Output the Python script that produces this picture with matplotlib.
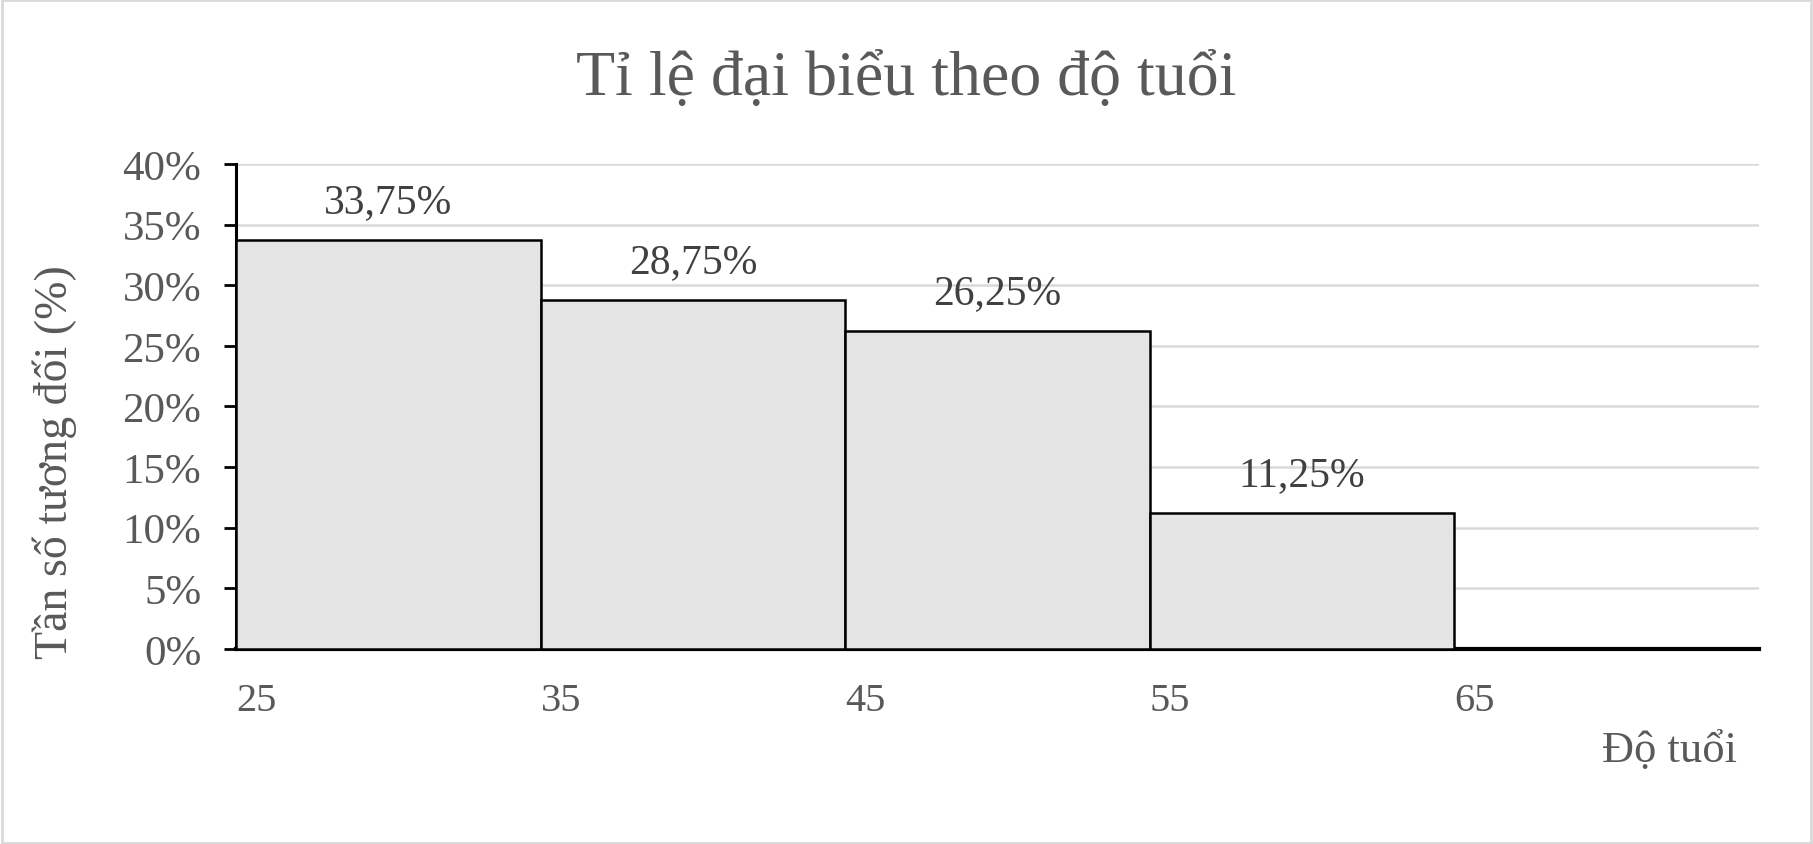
import matplotlib
matplotlib.use("Agg")
import matplotlib.pyplot as plt
from matplotlib.patches import Rectangle
from matplotlib.ticker import FuncFormatter

# data
bin_edges = [25, 35, 45, 55, 65]
bin_width = 10
shares = [33.75, 28.75, 26.25, 11.25]
share_labels = ["33,75%", "28,75%", "26,25%", "11,25%"]
x_ticks = [25, 35, 45, 55, 65]
y_ticks = [0, 5, 10, 15, 20, 25, 30, 35, 40]

title = "Tỉ lệ đại biểu theo độ tuổi"
xlabel = "Độ tuổi"
ylabel = "Tần số tương đối (%)"

TXT = "#595959"
plt.rcParams["font.family"] = ["Liberation Serif", "DejaVu Serif"]

fig = plt.figure(figsize=(18.13, 8.45), dpi=100)
ax = fig.add_axes([0.1302, 0.2308, 0.8400, 0.5740])

ax.bar(bin_edges[:-1], shares, width=bin_width, align="edge",
       color="#E4E4E4", edgecolor="black", linewidth=1.8, zorder=3)

for x0, h, lab in zip(bin_edges[:-1], shares, share_labels):
    ax.annotate(lab, (x0 + bin_width / 2, h), xytext=(0, 20),
                textcoords="offset points", ha="center", va="baseline",
                fontsize=30, color="#404040")

ax.set_xlim(25, 75)
ax.set_ylim(0, 40)
ax.set_yticks(y_ticks)
ax.yaxis.set_major_formatter(FuncFormatter(lambda v, p: f"{v:.0f}%"))
ax.tick_params(axis="y", direction="out", length=9, width=2, colors="black",
               labelcolor=TXT, labelsize=31, pad=16)
ax.set_xticks(x_ticks)
ax.set_xticklabels([str(v) for v in x_ticks], ha="left")
ax.tick_params(axis="x", length=0, labelcolor=TXT, labelsize=29, pad=24)

ax.grid(axis="y", color="#D9D9D9", linewidth=1.8, zorder=0)
ax.set_axisbelow(True)
for s in ["top", "right"]:
    ax.spines[s].set_visible(False)
ax.spines["left"].set_linewidth(2.2)
ax.spines["bottom"].set_linewidth(3)

fig.text(0.5, 1 - 95 / 845, title, ha="center", va="baseline",
         fontsize=46, color=TXT)
fig.text(1737 / 1813, 1 - 762 / 845, xlabel, ha="right", va="baseline",
         fontsize=32, color=TXT)
fig.text(55 / 1813, 1 - 462 / 845, ylabel, ha="center", va="center",
         rotation=90, fontsize=33, color=TXT)

fig.patches.append(Rectangle((0.001, 0.001), 0.998, 0.998,
                             transform=fig.transFigure, fill=False,
                             edgecolor="#D9D9D9", linewidth=2))

fig.savefig("out.png", dpi=100)
